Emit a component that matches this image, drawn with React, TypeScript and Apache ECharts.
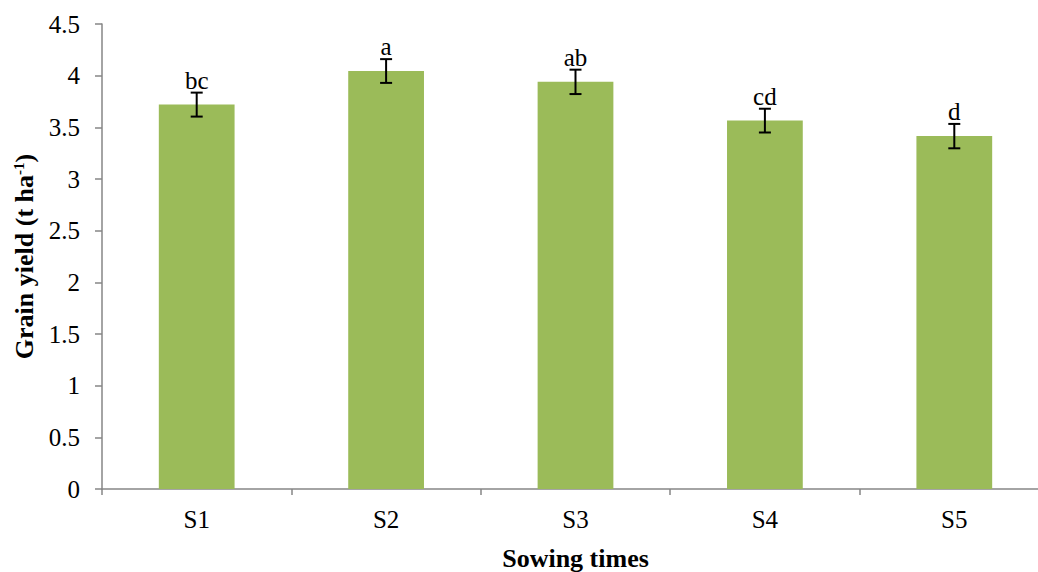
import React, { useEffect, useRef } from "react";
import * as echarts from "echarts";

const categories = ["S1", "S2", "S3", "S4", "S5"];
const yieldValues = [3.72, 4.045, 3.94, 3.565, 3.415];
const errorValues = [0.116, 0.115, 0.118, 0.115, 0.118];
const letters = ["bc", "a", "ab", "cd", "d"];

const FONT = "'Liberation Serif', 'Times New Roman', serif";

export default function App() {
  const ref = useRef<HTMLDivElement>(null);
  useEffect(() => {
    if (!ref.current) return;
    const chart = echarts.init(ref.current, undefined, { renderer: "svg" });
    const errData = categories.map((c, i) => [i, yieldValues[i], errorValues[i]]);
    chart.setOption({
      animation: false,
      backgroundColor: "#ffffff",
      grid: { left: 102, top: 24, bottom: 83, right: 0, containLabel: false, outerBoundsMode: "none" },
      xAxis: {
        type: "category",
        data: categories,
        name: "Sowing times",
        nameLocation: "middle",
        nameGap: 56,
        nameTextStyle: { fontFamily: FONT, fontSize: 26, fontWeight: "bold", color: "#000", verticalAlign: "top" },
        axisLine: { lineStyle: { color: "#868686", width: 1.5 } },
        axisTick: { show: true, length: 6, lineStyle: { color: "#868686", width: 1.5 } },
        axisLabel: { fontFamily: FONT, fontSize: 25, color: "#000", margin: 18 },
      },
      yAxis: {
        type: "value",
        min: 0,
        max: 4.5,
        interval: 0.5,
        name: "Grain yield (t ha{sup|-1})",
        nameLocation: "middle",
        nameGap: 64,
        nameRotate: 90,
        nameTextStyle: {
          fontFamily: FONT,
          fontSize: 26,
          fontWeight: "bold",
          color: "#000",
          rich: {
            sup: { fontFamily: FONT, fontSize: 15, fontWeight: "bold", color: "#000", verticalAlign: "top", padding: [0, 0, 12, 0] },
          },
        },
        axisLine: { show: true, lineStyle: { color: "#868686", width: 1.5 } },
        axisTick: { show: true, length: 7, lineStyle: { color: "#868686", width: 1.5 } },
        axisLabel: {
          fontFamily: FONT,
          fontSize: 25,
          color: "#000",
          margin: 22,
          formatter: (v: number) => String(v),
        },
        splitLine: { show: false },
      },
      series: [
        {
          type: "bar",
          data: yieldValues,
          barWidth: "40%",
          itemStyle: { color: "#9BBB59" },
        },
        {
          type: "custom",
          data: errData,
          z: 10,
          renderItem: (params: any, api: any) => {
            const i = api.value(0);
            const v = api.value(1);
            const e = api.value(2);
            const top = api.coord([i, v + e]);
            const bot = api.coord([i, v - e]);
            const x = top[0];
            const hw = 6;
            const style = { stroke: "#000", lineWidth: 2 };
            return {
              type: "group",
              children: [
                { type: "line", shape: { x1: x, y1: top[1], x2: x, y2: bot[1] }, style },
                { type: "line", shape: { x1: x - hw, y1: top[1], x2: x + hw, y2: top[1] }, style },
                { type: "line", shape: { x1: x - hw, y1: bot[1], x2: x + hw, y2: bot[1] }, style },
                {
                  type: "text",
                  style: {
                    text: letters[i],
                    x: x,
                    y: top[1],
                    textAlign: "center",
                    textVerticalAlign: "bottom",
                    fontFamily: FONT,
                    fontSize: 25,
                    fill: "#000",
                  },
                },
              ],
            };
          },
        },
      ],
    });
    return () => chart.dispose();
  }, []);
  return (
    <div style={{ position: "absolute", left: 0, top: 0, width: 1038, height: 572, overflow: "hidden", background: "#fff" }}>
      <div ref={ref} style={{ width: 1049, height: 572 }} />
    </div>
  );
}
